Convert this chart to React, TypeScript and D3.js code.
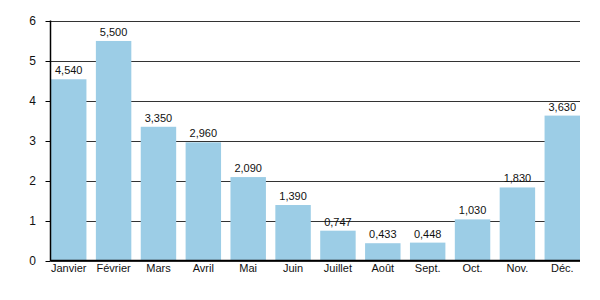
import React from "react";
import * as d3 from "d3";

const months = ["Janvier", "Février", "Mars", "Avril", "Mai", "Juin", "Juillet", "Août", "Sept.", "Oct.", "Nov.", "Déc."];
const values = [4.54, 5.5, 3.35, 2.96, 2.09, 1.39, 0.747, 0.433, 0.448, 1.03, 1.83, 3.63];
const valueLabels = ["4,540", "5,500", "3,350", "2,960", "2,090", "1,390", "0,747", "0,433", "0,448", "1,030", "1,830", "3,630"];
const yTicks = [0, 1, 2, 3, 4, 5, 6];

export default function App() {
  const W = 600, H = 300;
  const left = 50.5, right = 580, top = 21, bottom = 260.5;
  const x = d3.scaleBand<string>().domain(months).range([51, right]).paddingInner(0.21).paddingOuter(0);
  const y = d3.scaleLinear().domain([0, 6]).range([bottom, top]);
  const font = "Liberation Sans, Arial, sans-serif";
  return (
    <svg width={W} height={H} style={{ position: "absolute", left: 0, top: 0 }} fontFamily={font}>
      <rect width={W} height={H} fill="#fff" />
      {yTicks.map((t) => (
        <g key={t}>
          <line x1={left} x2={right} y1={Math.round(y(t)) + 0.5} y2={Math.round(y(t)) + 0.5} stroke="#333" strokeWidth={1} />
          <line x1={left - 5} x2={left} y1={Math.round(y(t)) + 0.5} y2={Math.round(y(t)) + 0.5} stroke="#000" strokeWidth={1} />
          <text x={36} y={y(t)} dy="0.35em" textAnchor="end" fontSize={12} fill="#111">{t}</text>
        </g>
      ))}
      {months.map((m, i) => (
        <g key={m}>
          <rect x={x(m)} y={y(values[i])} width={x.bandwidth()} height={bottom - y(values[i])} fill="#9ccde6" />
          <text x={(x(m) as number) + x.bandwidth() / 2} y={y(values[i]) - 5} textAnchor="middle" fontSize={11} fill="#111">{valueLabels[i]}</text>
          <text x={(x(m) as number) + x.bandwidth() / 2} y={bottom + 11} textAnchor="middle" fontSize={11} fill="#111">{m}</text>
        </g>
      ))}
      <line x1={left} x2={left} y1={top - 0.5} y2={bottom + 0.5} stroke="#000" strokeWidth={1.5} />
      <line x1={left} x2={right} y1={bottom} y2={bottom} stroke="#000" strokeWidth={1.5} />
    </svg>
  );
}
